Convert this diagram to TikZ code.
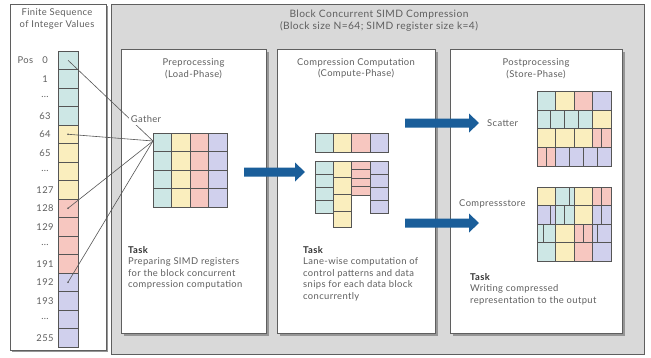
\documentclass[tikz,border=0pt]{standalone}
\usepackage{fontspec}
\setmainfont{Lato}[LetterSpace=4]
\definecolor{cteal}{RGB}{205,231,229}
\definecolor{cyel}{RGB}{250,238,190}
\definecolor{cred}{RGB}{247,199,192}
\definecolor{cblue}{RGB}{208,208,237}
\definecolor{arrblue}{RGB}{26,94,154}
\definecolor{txtgray}{RGB}{95,95,95}
\definecolor{boxgray}{RGB}{217,217,217}
\definecolor{bordgray}{RGB}{95,95,95}
\definecolor{cellb}{RGB}{85,85,85}
\definecolor{shad}{RGB}{150,150,150}
\newcommand\seqdots{...}
\begin{document}
\begin{tikzpicture}[x=1pt,y=-1pt,
  txt/.style={text=txtgray, font=\fontsize{9.4}{11.6}\selectfont, inner sep=0pt},
  cellbox/.style={draw=cellb, line width=0.8pt},
  panel/.style={draw=bordgray, line width=0.9pt, fill=white},
  shadowbox/.style={fill=shad},
  gline/.style={draw=cellb, line width=0.6pt},
  fatarrow/.style={fill=arrblue}
]
\useasboundingbox (0,0) rectangle (651,357);

% left box
\fill[shadowbox] (12,6) rectangle (108,352);
\draw[panel] (10,4) rectangle (106,350);
\node[txt, align=center] (seqtitle) at (57,19) {Finite Sequence\\of Integer Values};

% big gray box
\draw[draw=bordgray, line width=0.9pt, fill=boxgray] (111,4) rectangle (644,354);
\node[txt, align=center, font=\fontsize{10.2}{12.4}\selectfont] (maintitle) at (379,20.5) {Block Concurrent SIMD Compression\\(Block size N=64; SIMD register size k=4)};

% panels
\fill[shadowbox] (124,52) rectangle (269,336);
\draw[panel] (121,49) rectangle (266,333);
\fill[shadowbox] (280,52) rectangle (438,336);
\draw[panel] (277,49) rectangle (435,333);
\fill[shadowbox] (453,52) rectangle (625,336);
\draw[panel] (450,49) rectangle (622,333);

\node[txt, align=center] (h1) at (193.5,68.5) {Preprocessing\\(Load-Phase)};
\node[txt, align=center] (h2) at (356,68.5) {Compression Computation\\(Compute-Phase)};
\node[txt, align=center] (h3) at (536,68.5) {Postprocessing\\(Store-Phase)};

% sequence cells
\foreach \i/\col in {0/cteal,1/cteal,2/cteal,3/cteal,4/cyel,5/cyel,6/cyel,7/cyel,8/cred,9/cred,10/cred,11/cred,12/cblue,13/cblue,14/cblue,15/cblue}{
  \node[cellbox, fill=\col, minimum width=20pt, minimum height=18.5pt, inner sep=0pt] (c\i) at (68,{51+(\i+0.5)*18.5}) {};
}
\foreach \i/\lab in {0/0,1/1,2/\seqdots,3/63,4/64,5/65,6/\seqdots,7/127,8/128,9/129,10/\seqdots,11/191,12/192,13/193,14/\seqdots,15/255}{
  \node[txt] (l\i) at (45,{51+(\i+0.5)*18.5}) {\lab};
}
\node[txt] (pos) at (25.5,60.25) {Pos};

% preprocessing grid
\foreach \j/\col in {0/cteal,1/cyel,2/cred,3/cblue}{
  \foreach \r in {0,1,2,3}{
    \draw[cellbox, fill=\col] ({153+\j*18.5},{133+\r*18.5}) rectangle ++(18.5,18.5);
  }
}
\coordinate (g) at (153,141);
\foreach \i in {0,4,8,12}{
  \draw[gline] (c\i.center) -- (g);
}
\foreach \i in {4,8,12}{
  \fill[cellb] (c\i.center) circle (0.8);
}
\node[txt, fill=white, inner sep=1.5pt] (gather) at (146,119.5) {Gather};

% compute grid
\foreach \j/\col in {0/cteal,1/cyel,2/cred,3/cblue}{
  \draw[cellbox, fill=\col] ({315+\j*18.3},133) rectangle ++(18.3,19);
}
\foreach \r in {0,1,2,3}{
  \draw[cellbox, fill=cteal] (315,{161+\r*13}) rectangle ++(18.3,13);
  \draw[cellbox, fill=cyel] (333.3,{161+\r*16.7}) rectangle ++(18.3,16.7);
  \draw[cellbox, fill=cred] (351.6,{161+\r*8.5}) rectangle ++(18.3,8.5);
  \draw[cellbox, fill=cblue] (369.9,{161+\r*13}) rectangle ++(18.3,13);
}

% scatter grid
\def\ra{91.5}\def\rb{110}\def\rc{128.5}\def\rd{147}\def\re{166}
\draw[cellbox, fill=cteal] (537,\ra) rectangle (555.5,\rb);
\draw[cellbox, fill=cyel] (555.5,\ra) rectangle (574,\rb);
\draw[cellbox, fill=cred] (574,\ra) rectangle (592.5,\rb);
\draw[cellbox, fill=cblue] (592.5,\ra) rectangle (611,\rb);
\foreach \k in {0,1,2,3}{
  \draw[cellbox, fill=cteal] ({537+\k*13.875},\rb) rectangle ++(13.875,18.5);
}
\draw[cellbox, fill=cyel] (592.5,\rb) rectangle (611,\rc);
\foreach \k in {0,1,2}{
  \draw[cellbox, fill=cyel] ({537+\k*18.5},\rc) rectangle ++(18.5,18.5);
}
\draw[cellbox, fill=cred] (592.5,\rc) rectangle (601.75,\rd);
\draw[cellbox, fill=cred] (601.75,\rc) rectangle (611,\rd);
\draw[cellbox, fill=cred] (537,\rd) rectangle (546.25,\re);
\draw[cellbox, fill=cred] (546.25,\rd) rectangle (555.5,\re);
\foreach \k in {0,1,2,3}{
  \draw[cellbox, fill=cblue] ({555.5+\k*13.875},\rd) rectangle ++(13.875,19);
}

% compressstore grid
\def\sa{187}\def\sb{205.5}\def\sc{224}\def\sd{242.5}\def\se{261}
\draw[cellbox, fill=cyel] (537,\sa) rectangle (555.5,\sb);
\draw[cellbox, fill=cteal] (555.5,\sa) rectangle (569,\sb);
\draw[cellbox, fill=cteal] (569,\sa) rectangle (574,\sb);
\draw[cellbox, fill=cyel] (574,\sa) rectangle (592.5,\sb);
\draw[cellbox, fill=cred] (592.5,\sa) rectangle (601.75,\sb);
\draw[cellbox, fill=cred] (601.75,\sa) rectangle (611,\sb);

\draw[cellbox, fill=cblue] (537,\sb) rectangle (550,\sc);
\draw[cellbox, fill=cblue] (550,\sb) rectangle (555.5,\sc);
\draw[cellbox, fill=cteal] (555.5,\sb) rectangle (564.5,\sc);
\draw[cellbox, fill=cteal] (564.5,\sb) rectangle (574,\sc);
\draw[cellbox, fill=cyel] (574,\sb) rectangle (592.5,\sc);
\draw[cellbox, fill=cblue] (592.5,\sb) rectangle (601.75,\sc);
\draw[cellbox, fill=cblue] (601.75,\sb) rectangle (611,\sc);

\draw[cellbox, fill=cteal] (537,\sc) rectangle (543,\sd);
\draw[cellbox, fill=cteal] (543,\sc) rectangle (555.5,\sd);
\draw[cellbox, fill=cyel] (555.5,\sc) rectangle (574,\sd);
\draw[cellbox, fill=cred] (574,\sc) rectangle (583.25,\sd);
\draw[cellbox, fill=cred] (583.25,\sc) rectangle (592.5,\sd);
\draw[cellbox, fill=cblue] (592.5,\sc) rectangle (597,\sd);
\draw[cellbox, fill=cblue] (597,\sc) rectangle (611,\sd);

\draw[cellbox, fill=cteal] (537,\sd) rectangle (555.5,\se);
\draw[cellbox, fill=cyel] (555.5,\sd) rectangle (574,\se);
\draw[cellbox, fill=cred] (574,\sd) rectangle (592.5,\se);
\draw[cellbox, fill=cblue] (592.5,\sd) rectangle (611,\se);

% arrows
\fill[fatarrow] (244,167.5) -- (295,167.5) -- (295,162.5) -- (305,172) -- (295,181.5) -- (295,176.5) -- (244,176.5) -- cycle;
\fill[fatarrow] (405,118.5) -- (469,118.5) -- (469,113.5) -- (479,123) -- (469,132.5) -- (469,127.5) -- (405,127.5) -- cycle;
\fill[fatarrow] (405,218.5) -- (469,218.5) -- (469,213.5) -- (479,223) -- (469,232.5) -- (469,227.5) -- (405,227.5) -- cycle;

\node[txt, anchor=west] (scatter) at (487,123) {Scatter};
\node[txt, anchor=west] (cstore) at (459,204) {Compressstore};

% tasks
\node[txt, anchor=north west, align=left] (t1) at (128,246) {{\color{black!80}\bfseries Task}\\Preparing SIMD registers\\for the block concurrent\\compression computation};
\node[txt, anchor=north west, align=left] (t2) at (303,246) {{\color{black!80}\bfseries Task}\\Lane-wise computation of\\control patterns and data\\snips for each data block\\concurrently};
\node[txt, anchor=north west, align=left] (t3) at (470,273) {{\color{black!80}\bfseries Task}\\Writing compressed\\representation to the output};
\end{tikzpicture}
\end{document}
